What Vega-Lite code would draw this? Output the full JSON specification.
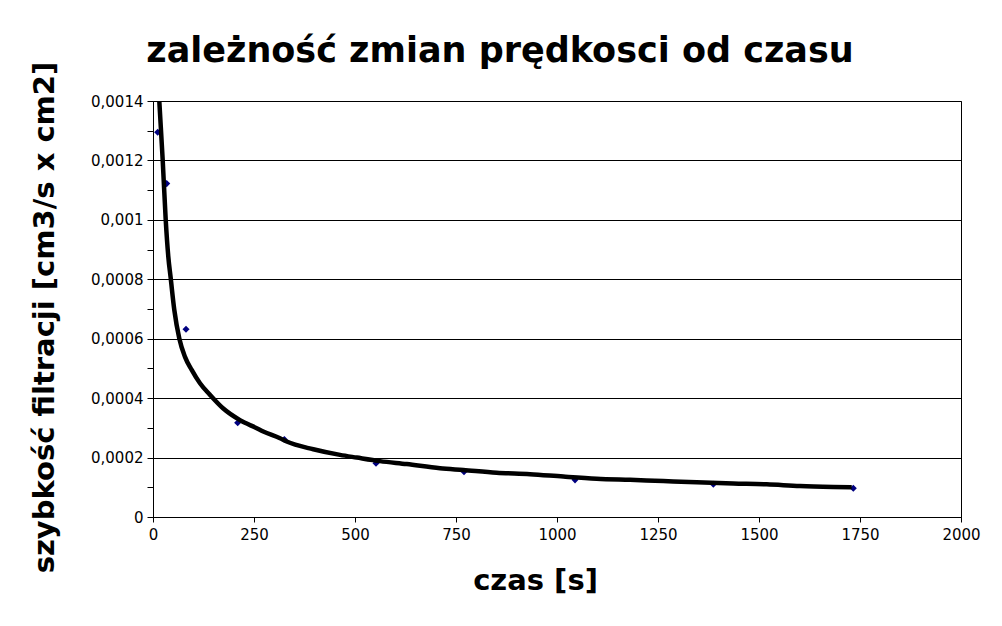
{
  "$schema": "https://vega.github.io/schema/vega-lite/v6.json",
  "autosize": {"type": "none"},
  "padding": {"left": 153, "top": 101, "right": 41, "bottom": 109},
  "width": 808,
  "height": 416,
  "background": "white",
  "title": {
    "text": "zależność zmian prędkosci od czasu",
    "font": "DejaVu Sans",
    "fontSize": 35,
    "fontWeight": "bold",
    "color": "black",
    "anchor": "middle",
    "dx": -57,
    "offset": -8
  },
  "config": {
    "view": {"stroke": "black", "strokeWidth": 1},
    "axis": {
      "domainColor": "black",
      "tickColor": "black",
      "gridColor": "black",
      "gridOpacity": 1,
      "labelColor": "black",
      "labelFont": "DejaVu Sans",
      "labelFontSize": 15,
      "titleFont": "DejaVu Sans",
      "titleFontSize": 29,
      "titleFontWeight": "bold",
      "titleColor": "black"
    }
  },
  "datasets": {
    "points": [
      {"czas": 11.6, "v": 0.001295},
      {"czas": 33.9, "v": 0.001122},
      {"czas": 81.7, "v": 0.000632},
      {"czas": 209.6, "v": 0.000317},
      {"czas": 325.1, "v": 0.000261},
      {"czas": 552.0, "v": 0.000181},
      {"czas": 769.8, "v": 0.000152},
      {"czas": 1044.6, "v": 0.000125},
      {"czas": 1386.9, "v": 0.000110},
      {"czas": 1733.4, "v": 0.0000966}
    ],
    "trend": [
      {"czas": 11.6, "v": 0.0015},
      {"czas": 15.6, "v": 0.0014},
      {"czas": 24.0, "v": 0.001201},
      {"czas": 31.4, "v": 0.001002},
      {"czas": 37.9, "v": 0.000876},
      {"czas": 43.8, "v": 0.000804},
      {"czas": 52.7, "v": 0.000697},
      {"czas": 65.1, "v": 0.000601},
      {"czas": 79.2, "v": 0.000539},
      {"czas": 95.8, "v": 0.000495},
      {"czas": 116.3, "v": 0.00045},
      {"czas": 141.1, "v": 0.000411},
      {"czas": 174.0, "v": 0.000365},
      {"czas": 215.3, "v": 0.000326},
      {"czas": 256.7, "v": 0.000299},
      {"czas": 273.0, "v": 0.000288},
      {"czas": 314.4, "v": 0.000265},
      {"czas": 330.9, "v": 0.000254},
      {"czas": 396.8, "v": 0.000228},
      {"czas": 462.9, "v": 0.000209},
      {"czas": 504.2, "v": 0.0002},
      {"czas": 561.9, "v": 0.000188},
      {"czas": 628.0, "v": 0.000178},
      {"czas": 710.4, "v": 0.000164},
      {"czas": 768.1, "v": 0.000158},
      {"czas": 850.7, "v": 0.000149},
      {"czas": 933.2, "v": 0.000144},
      {"czas": 1015.6, "v": 0.000136},
      {"czas": 1098.3, "v": 0.000129},
      {"czas": 1180.7, "v": 0.000125},
      {"czas": 1263.1, "v": 0.000121},
      {"czas": 1345.8, "v": 0.000117},
      {"czas": 1436.4, "v": 0.000113},
      {"czas": 1519.1, "v": 0.00011},
      {"czas": 1601.5, "v": 0.000104},
      {"czas": 1683.9, "v": 0.000101},
      {"czas": 1729.5, "v": 0.0001}
    ]
  },
  "encoding": {
    "x": {
      "field": "czas",
      "type": "quantitative",
      "scale": {"domain": [0, 2000], "nice": false, "zero": false},
      "axis": {
        "title": "czas [s]",
        "values": [0, 250, 500, 750, 1000, 1250, 1500, 1750, 2000],
        "format": "d",
        "grid": false,
        "tickSize": 5,
        "labelPadding": 5,
        "titlePadding": 24,
        "titleX": 382,
        "labelFlush": false
      }
    },
    "y": {
      "field": "v",
      "type": "quantitative",
      "scale": {"domain": [0, 0.0014], "nice": false},
      "axis": {
        "title": "szybkość filtracji [cm3/s x cm2]",
        "values": [0, 0.0001, 0.0002, 0.0003, 0.0004, 0.0005, 0.0006, 0.0007, 0.0008, 0.0009, 0.001, 0.0011, 0.0012, 0.0013, 0.0014],
        "labelExpr": "round(datum.value * 10000) % 2 == 0 ? replace(toString(datum.value), '.', ',') : ''",
        "grid": true,
        "gridOpacity": {"condition": {"test": "round(datum.value * 10000) % 2 == 0", "value": 1}, "value": 0},
        "tickSize": 6,
        "labelPadding": 4,
        "titlePadding": 31,
        "titleY": 216,
        "labelFlush": false
      }
    }
  },
  "layer": [
    {
      "data": {"name": "points"},
      "mark": {"type": "point", "shape": "diamond", "filled": true, "size": 50, "color": "#000080", "opacity": 1}
    },
    {
      "data": {"name": "trend"},
      "mark": {"type": "line", "color": "black", "strokeWidth": 4.5, "clip": true, "interpolate": "monotone"}
    }
  ]
}
